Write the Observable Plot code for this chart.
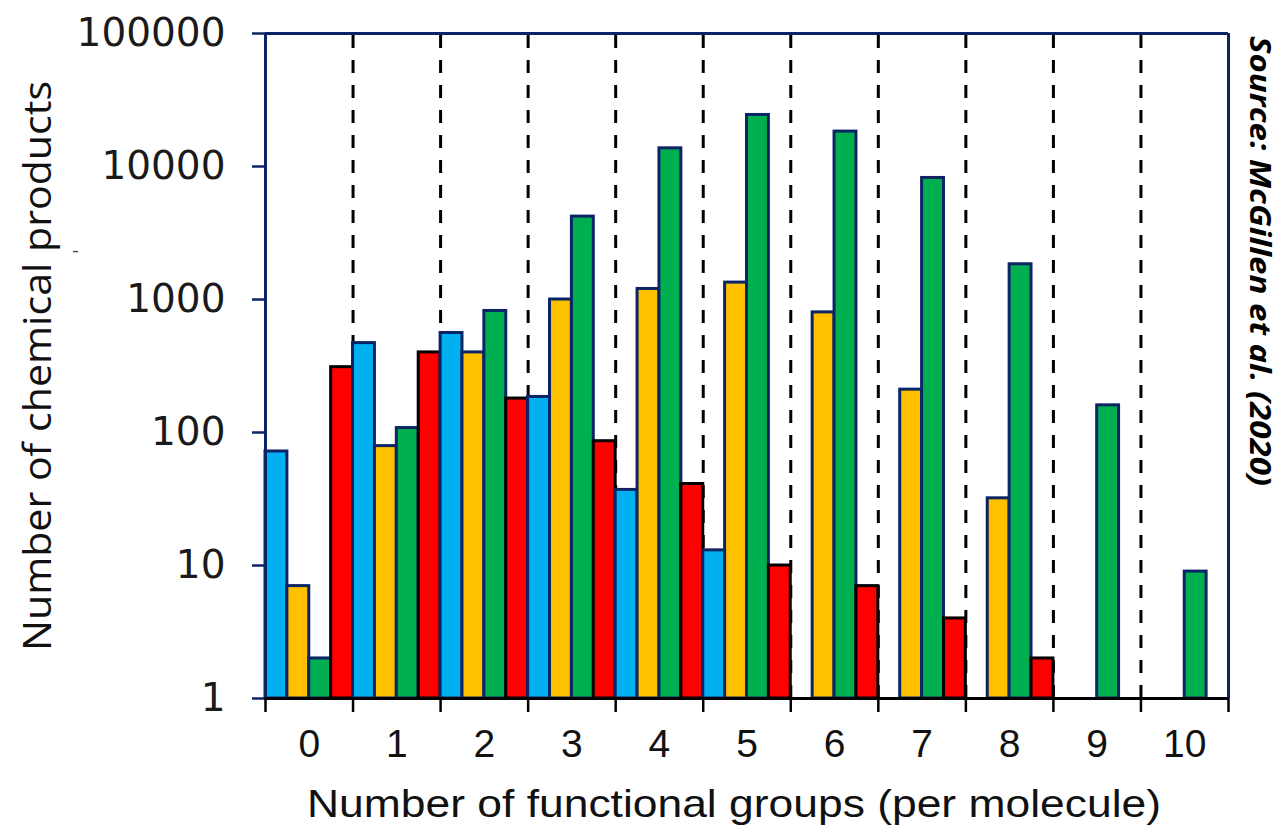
<!DOCTYPE html>
<html>
<head>
<meta charset="utf-8">
<script src="https://cdn.jsdelivr.net/npm/d3@7"></script>
<script src="https://cdn.jsdelivr.net/npm/@observablehq/plot@0.6"></script>
<style>
  html, body { margin: 0; padding: 0; background: #fff; }
  #chart { width: 1281px; height: 840px; }
</style>
</head>
<body>
<div id="chart"></div>
<script>
// ---- data ----
const groups = [0, 1, 2, 3, 4, 5, 6, 7, 8, 9, 10];
const seriesNames = ["blue", "yellow", "green", "red"];
const blueValues   = [72, 470, 560, 185, 37, 13, null, null, null, null, null];
const yellowValues = [7, 79, 400, 1000, 1200, 1340, 800, 210, 32, null, null];
const greenValues  = [2, 108, 820, 4200, 13700, 24400, 18300, 8200, 1840, 160, 9];
const redValues    = [310, 400, 180, 86, 41, 10, 7, 4, 2, null, null];
const yTicks = [1, 10, 100, 1000, 10000, 100000];
const yLabel = "Number of chemical products";
const xLabel = "Number of functional groups (per molecule)";
const sourceText = "Source: McGillen et al. (2020)";

// ---- styles ----
const fills = ["#00B0F0", "#FFC000", "#00B050", "#FF0000"];
const strokes = ["#0B2466", "#0B2466", "#0B2466", "#000000"];
const navy = "#0B2466";

const allSeries = [blueValues, yellowValues, greenValues, redValues];
const rows = [];
groups.forEach((g, gi) => {
  allSeries.forEach((vals, si) => {
    const v = vals[gi];
    if (v != null) rows.push({group: g, series: si, name: seriesNames[si], value: v});
  });
});
const nS = seriesNames.length;
const boundaries = groups.map(g => g - 0.5).concat([groups[groups.length - 1] + 0.5]);
const dividers = boundaries.slice(1, -1);
const yMin = yTicks[0], yMax = yTicks[yTicks.length - 1];

const chart = Plot.plot({
  width: 1281,
  height: 840,
  marginLeft: 265,
  marginRight: 53,
  marginTop: 33,
  marginBottom: 142,
  style: {background: "white", color: "black", fontFamily: "'Liberation Sans', Arial, sans-serif"},
  x: {type: "linear", domain: [boundaries[0], boundaries[boundaries.length - 1]], axis: null},
  y: {type: "log", domain: [yMin, yMax], axis: null},
  color: {type: "identity"},
  marks: [
    Plot.ruleX(dividers, {x: d => d, y1: yMin, y2: yMax, stroke: "black", strokeWidth: 3, strokeDasharray: "13,12"}),
    Plot.rectY(rows, {
      x1: d => d.group - 0.5 + d.series / nS,
      x2: d => d.group - 0.5 + (d.series + 1) / nS,
      y1: d => yMin,
      y2: "value",
      fill: d => fills[d.series],
      stroke: d => strokes[d.series],
      strokeWidth: 3
    }),
    Plot.ruleY([yMax], {y: d => d, stroke: navy, strokeWidth: 3}),
    Plot.ruleX([boundaries[0]], {x: d => d, y1: yMin, y2: yMax, stroke: navy, strokeWidth: 3}),
    Plot.ruleX([boundaries[boundaries.length - 1]], {x: d => d, y1: yMin, y2: yMax, stroke: navy, strokeWidth: 3}),
    Plot.axisY({ticks: yTicks, tickFormat: () => "", tickSize: 13, stroke: navy, strokeWidth: 2.5, label: null}),
    Plot.ruleY([yMin], {y: d => d, stroke: "black", strokeWidth: 3}),
    Plot.axisX({ticks: boundaries, tickFormat: () => "", tickSize: 14, stroke: "black", strokeWidth: 2.5, label: null}),
    Plot.text(yTicks, {y: d => d, text: d => String(d), frameAnchor: "left", dx: -40, textAnchor: "end",
      fontSize: 39, fontFamily: "'DejaVu Sans', sans-serif", fill: "#1a1a1a"}),
    Plot.text(groups, {x: d => d, text: d => String(d), frameAnchor: "bottom", dy: 58, textAnchor: "middle",
      fontSize: 39, fontFamily: "'Liberation Sans', Arial, sans-serif", fill: "#111"}),
    Plot.text([xLabel], {text: d => d, frameAnchor: "bottom", dy: 118, dx: -13, textAnchor: "middle",
      fontSize: 39, fontFamily: "'Liberation Sans', Arial, sans-serif", fill: "#111", className: "xlabel"}),
    Plot.text([yLabel], {text: d => d, frameAnchor: "left", dx: -227, rotate: -90, textAnchor: "middle",
      fontSize: 39, fontFamily: "'Open Sans', sans-serif", fill: "#111", className: "ylabel"}),
    Plot.text(["-"], {text: d => d, frameAnchor: "left", dx: -190, dy: -115, textAnchor: "middle",
      fontSize: 20, fontFamily: "'Open Sans', sans-serif", fill: "#444"}),
    Plot.text([sourceText], {text: d => d, frameAnchor: "right", dx: 30, dy: -105, rotate: 90, textAnchor: "middle",
      fontSize: 28, fontWeight: "bold", fontStyle: "italic", fontFamily: "'Open Sans', sans-serif", fill: "#000", className: "source"})
  ]
});
document.getElementById("chart").appendChild(chart);
// stretch texts to the reference's extents
d3.select(chart).selectAll(".xlabel text").attr("textLength", 854).attr("lengthAdjust", "spacingAndGlyphs");
d3.select(chart).selectAll(".ylabel text").attr("textLength", 570).attr("lengthAdjust", "spacingAndGlyphs");
d3.select(chart).selectAll(".source text").attr("textLength", 450).attr("lengthAdjust", "spacingAndGlyphs");
</script>
</body>
</html>
